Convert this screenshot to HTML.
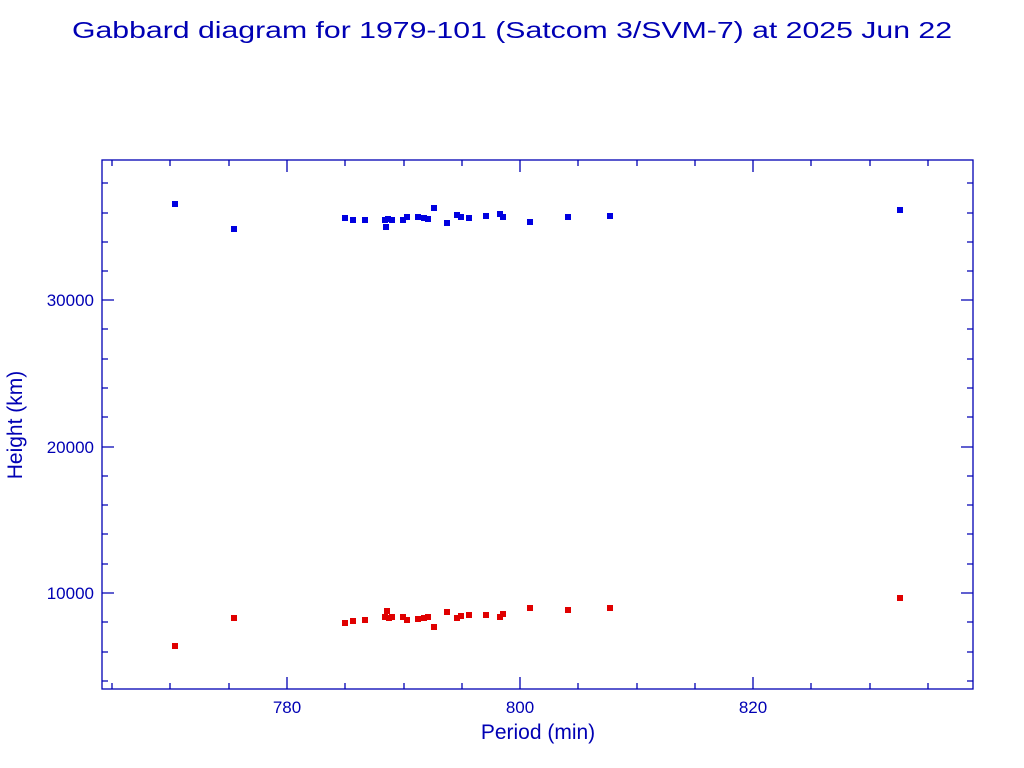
<!DOCTYPE html>
<html><head><meta charset="utf-8"><style>body{margin:0;background:#fff}svg{display:block}</style></head><body>
<svg width="1024" height="768" viewBox="0 0 1024 768" xmlns="http://www.w3.org/2000/svg" font-family="Liberation Serif, serif" fill="#0000b4">
<text x="512" y="38" font-size="23" text-anchor="middle" textLength="880" lengthAdjust="spacingAndGlyphs" font-family="Liberation Sans, sans-serif">Gabbard diagram for 1979-101 (Satcom 3/SVM-7) at 2025 Jun 22</text>
<g stroke="#0000b4" stroke-width="1.3" fill="none">
<rect x="102" y="160" width="871" height="529"/>
<path d="M112 689v-6M112 160v6M170 689v-6M170 160v6M229 689v-6M229 160v6M287 689v-12M287 160v12M345 689v-6M345 160v6M404 689v-6M404 160v6M462 689v-6M462 160v6M520 689v-12M520 160v12M578 689v-6M578 160v6M637 689v-6M637 160v6M695 689v-6M695 160v6M753 689v-12M753 160v12M811 689v-6M811 160v6M870 689v-6M870 160v6M928 689v-6M928 160v6"/>
<path d="M102 183h6M973 183h-6M102 213h6M973 213h-6M102 242h6M973 242h-6M102 271h6M973 271h-6M102 300h12M973 300h-12M102 329h6M973 329h-6M102 359h6M973 359h-6M102 388h6M973 388h-6M102 417h6M973 417h-6M102 447h12M973 447h-12M102 476h6M973 476h-6M102 505h6M973 505h-6M102 534h6M973 534h-6M102 564h6M973 564h-6M102 593h12M973 593h-12M102 622h6M973 622h-6M102 652h6M973 652h-6M102 681h6M973 681h-6"/>
</g>
<g font-size="17" font-family="Liberation Sans, sans-serif">
<text x="287" y="713" text-anchor="middle">780</text>
<text x="520" y="713" text-anchor="middle">800</text>
<text x="753" y="713" text-anchor="middle">820</text>
<text x="94" y="306" text-anchor="end">30000</text>
<text x="94" y="453" text-anchor="end">20000</text>
<text x="94" y="599" text-anchor="end">10000</text>
</g>
<text x="538" y="739" font-size="21" text-anchor="middle" font-family="Liberation Sans, sans-serif">Period (min)</text>
<text transform="translate(22,425) rotate(-90)" font-size="21" text-anchor="middle" font-family="Liberation Sans, sans-serif">Height (km)</text>
<g id="b" fill="#0000e0">
<rect x="172" y="201" width="6" height="6"/><rect x="231" y="226" width="6" height="6"/>
<rect x="342" y="215" width="6" height="6"/><rect x="350" y="217" width="6" height="6"/><rect x="362" y="217" width="6" height="6"/>
<rect x="382" y="217" width="6" height="6"/><rect x="385" y="216" width="6" height="6"/><rect x="389" y="217" width="6" height="6"/><rect x="383" y="224" width="6" height="6"/>
<rect x="400" y="217" width="6" height="6"/><rect x="404" y="214" width="6" height="6"/><rect x="415" y="214" width="6" height="6"/><rect x="421" y="215" width="6" height="6"/>
<rect x="425" y="216" width="6" height="6"/><rect x="431" y="205" width="6" height="6"/><rect x="444" y="220" width="6" height="6"/><rect x="454" y="212" width="6" height="6"/>
<rect x="458" y="214" width="6" height="6"/><rect x="466" y="215" width="6" height="6"/><rect x="483" y="213" width="6" height="6"/><rect x="497" y="211" width="6" height="6"/>
<rect x="500" y="214" width="6" height="6"/><rect x="527" y="219" width="6" height="6"/><rect x="565" y="214" width="6" height="6"/><rect x="607" y="213" width="6" height="6"/><rect x="897" y="207" width="6" height="6"/>
</g>
<g fill="#e00000">
<rect x="172" y="643" width="6" height="6"/><rect x="231" y="615" width="6" height="6"/>
<rect x="342" y="620" width="6" height="6"/><rect x="350" y="618" width="6" height="6"/><rect x="362" y="617" width="6" height="6"/>
<rect x="382" y="614" width="6" height="6"/><rect x="384" y="608" width="6" height="6"/><rect x="386" y="615" width="6" height="6"/><rect x="389" y="614" width="6" height="6"/>
<rect x="400" y="614" width="6" height="6"/><rect x="404" y="617" width="6" height="6"/><rect x="415" y="616" width="6" height="6"/><rect x="421" y="615" width="6" height="6"/>
<rect x="425" y="614" width="6" height="6"/><rect x="431" y="624" width="6" height="6"/><rect x="444" y="609" width="6" height="6"/><rect x="454" y="615" width="6" height="6"/>
<rect x="458" y="613" width="6" height="6"/><rect x="466" y="612" width="6" height="6"/><rect x="483" y="612" width="6" height="6"/><rect x="497" y="614" width="6" height="6"/>
<rect x="500" y="611" width="6" height="6"/><rect x="527" y="605" width="6" height="6"/><rect x="565" y="607" width="6" height="6"/><rect x="607" y="605" width="6" height="6"/><rect x="897" y="595" width="6" height="6"/>
</g>
</svg>
</body></html>
